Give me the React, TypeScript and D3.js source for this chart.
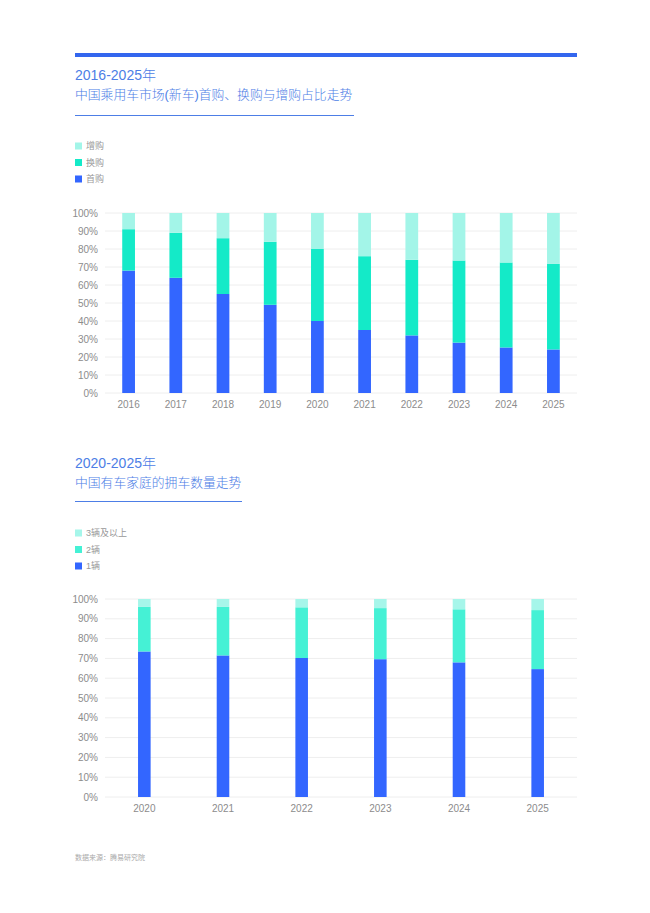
import React from 'react';
import * as d3 from 'd3';

// chart 1: 首购 / 换购 / 增购 share of new passenger car purchases
const years1 = ['2016', '2017', '2018', '2019', '2020', '2021', '2022', '2023', '2024', '2025'];
const firstBuy = [68, 64, 55, 49, 40, 35, 32, 28, 25.3, 24.2];
const replaceBuy = [23, 25, 31, 35, 40, 41, 42, 45.6, 47.2, 47.5];
const addBuy = [9, 11, 14, 16, 20, 24, 26, 26.4, 27.5, 28.3];

// chart 2: households by number of cars owned
const years2 = ['2020', '2021', '2022', '2023', '2024', '2025'];
const oneCar = [73.5, 71.5, 70.2, 69.6, 68.0, 64.6];
const twoCars = [22.5, 24.5, 25.6, 25.8, 26.8, 29.8];
const threePlus = [4, 4, 4.2, 4.6, 5.2, 5.6];

const yTicks = [0, 10, 20, 30, 40, 50, 60, 70, 80, 90, 100];

const FONT = '"Liberation Sans", "Noto Sans CJK SC", sans-serif';
const TITLE_COLOR = '#4d7ee6';
const AXIS_TEXT = '#8c8c8c';
const GRID = '#eeeeee';

interface StackChartProps {
  years: string[];
  series: { name: string; values: number[]; color: string }[];
  top: number;
  bottom: number;
  padding: number;
}

const StackChart: React.FC<StackChartProps> = ({ years, series, top, bottom, padding }) => {
  const x = d3.scaleBand<string>().domain(years).range([105, 577]).paddingInner(padding).paddingOuter(padding / 2);
  const y = d3.scaleLinear().domain([0, 100]).range([bottom, top]);

  const rows = years.map((yr, i) => {
    const row: Record<string, number | string> = { year: yr };
    series.forEach((s) => (row[s.name] = s.values[i]));
    return row;
  });
  const stacked = d3.stack<Record<string, number | string>>().keys(series.map((s) => s.name))(rows as any);

  return (
    <g>
      {yTicks.map((t) => (
        <g key={t}>
          <line x1={105} x2={577} y1={y(t)} y2={y(t)} stroke={GRID} strokeWidth={1} />
          <text x={98} y={y(t)} dy="0.35em" textAnchor="end" fontSize={10} fill={AXIS_TEXT} fontFamily={FONT}>
            {t}%
          </text>
        </g>
      ))}
      {stacked.map((layer, li) => (
        <g key={layer.key} fill={series[li].color}>
          {layer.map((d, i) => (
            <rect
              key={i}
              x={x(years[i])}
              width={x.bandwidth()}
              y={y(Math.min(d[1], 100))}
              height={y(d[0]) - y(Math.min(d[1], 100))}
            />
          ))}
        </g>
      ))}
      {years.map((yr) => (
        <text
          key={yr}
          x={(x(yr) ?? 0) + x.bandwidth() / 2}
          y={bottom + 15}
          textAnchor="middle"
          fontSize={10}
          fill={AXIS_TEXT}
          fontFamily={FONT}
        >
          {yr}
        </text>
      ))}
    </g>
  );
};

const Legend: React.FC<{ items: { name: string; color: string }[]; top: number }> = ({ items, top }) => (
  <g>
    {items.map((it, i) => (
      <g key={it.name} transform={`translate(75,${top + i * 16.5})`}>
        <rect x={0} y={-3.5} width={7} height={7} fill={it.color} />
        <text x={11} y={0} dy="0.35em" fontSize={9} fill="#999" fontFamily={FONT}>
          {it.name}
        </text>
      </g>
    ))}
  </g>
);

export default function App() {
  const s1 = [
    { name: '首购', values: firstBuy, color: '#3366ff' },
    { name: '换购', values: replaceBuy, color: '#14eac8' },
    { name: '增购', values: addBuy, color: '#a3f5e8' },
  ];
  const s2 = [
    { name: '1辆', values: oneCar, color: '#3366ff' },
    { name: '2辆', values: twoCars, color: '#45f1d5' },
    { name: '3辆及以上', values: threePlus, color: '#a6f6ea' },
  ];

  return (
    <svg width={650} height={913} style={{ position: 'absolute', left: 0, top: 0, background: '#fff' }}>
      <rect x={75} y={53} width={502} height={4} fill="#3366ee" />

      <text x={75} y={80} fontSize={14} fontWeight={300} fill={TITLE_COLOR} fontFamily={FONT}>
        2016-2025年
      </text>
      <text x={75} y={99} fontSize={12.8} fontWeight={300} fill={TITLE_COLOR} fontFamily={FONT}>
        中国乘用车市场(新车)首购、换购与增购占比走势
      </text>
      <line x1={75} x2={354} y1={115.5} y2={115.5} stroke={TITLE_COLOR} strokeWidth={1.2} />
      <Legend items={[...s1].reverse()} top={146} />
      <StackChart years={years1} series={s1} top={213} bottom={393} padding={0.73} />

      <text x={75} y={468} fontSize={14} fontWeight={300} fill={TITLE_COLOR} fontFamily={FONT}>
        2020-2025年
      </text>
      <text x={75} y={487} fontSize={12.8} fontWeight={300} fill={TITLE_COLOR} fontFamily={FONT}>
        中国有车家庭的拥车数量走势
      </text>
      <line x1={75} x2={242} y1={501.5} y2={501.5} stroke={TITLE_COLOR} strokeWidth={1.2} />
      <Legend items={[...s2].reverse()} top={533} />
      <StackChart years={years2} series={s2} top={599} bottom={797} padding={0.84} />

      <text x={75} y={860} fontSize={7} fill="#aaa" fontFamily={FONT}>
        数据来源：腾易研究院
      </text>
    </svg>
  );
}
